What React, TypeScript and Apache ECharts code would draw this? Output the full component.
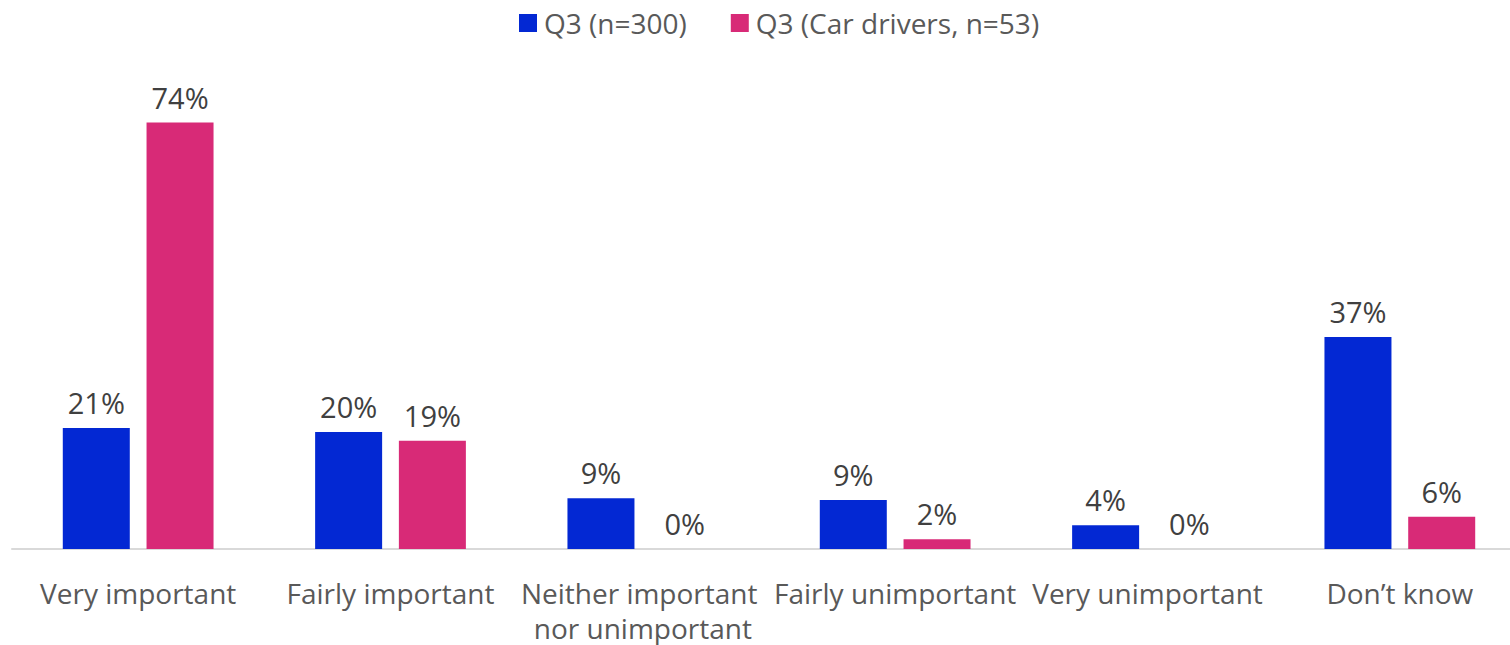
import React, { useEffect, useRef } from "react";
import * as echarts from "echarts";

const categories = [
  "Very important",
  "Fairly important",
  "Neither important nor unimportant",
  "Fairly unimportant",
  "Very unimportant",
  "Don\u2019t know",
];
const seriesNames = ["Q3 (n=300)", "Q3 (Car drivers, n=53)"];
const allValues = [21.0, 20.3, 8.8, 8.5, 4.1, 36.8];
const carDriverValues = [74.0, 18.8, 0, 1.7, 0, 5.6];
const colors = ["#0328D3", "#D82A77"];

export default function App() {
  const ref = useRef<HTMLDivElement>(null);
  useEffect(() => {
    if (!ref.current) return;
    const chart = echarts.init(ref.current, undefined, { renderer: "svg" });
    const font = "'Open Sans', sans-serif";
    const label = {
      show: true,
      position: "top",
      distance: 11,
      color: "#404040",
      fontSize: 29,
      fontFamily: font,
      formatter: (p: any) => Math.round(p.value) + "%",
    };
    chart.setOption({
      animation: false,
      color: colors,
      legend: {
        top: 4,
        left: 514,
        itemWidth: 18,
        itemHeight: 18,
        itemGap: 44,
        icon: "rect",
        textStyle: { fontSize: 28, color: "#595959", fontFamily: font, padding: [0, 0, 0, 2] },
        data: seriesNames,
      },
      grid: { left: 12, right: -16, top: 88, bottom: 96, outerBoundsMode: "none", containLabel: false },
      xAxis: {
        type: "category",
        data: categories,
        axisLine: { lineStyle: { color: "#d9d9d9", width: 2 } },
        axisTick: { show: false },
        axisLabel: {
          interval: 0,
          margin: 26,
          fontSize: 28,
          color: "#595959",
          fontFamily: font,
          lineHeight: 35,
          width: 252,
          overflow: "break",
        },
      },
      yAxis: {
        type: "value",
        min: 0,
        max: 80,
        show: false,
        splitLine: { show: false },
      },
      series: [
        {
          name: seriesNames[0],
          type: "bar",
          data: allValues,
          barWidth: 67,
          barGap: "25%",
          label,
        },
        {
          name: seriesNames[1],
          type: "bar",
          data: carDriverValues,
          barWidth: 67,
          barGap: "25%",
          label,
        },
      ],
    });
    return () => chart.dispose();
  }, []);
  return (
    <div
      ref={ref}
      style={{ position: "fixed", left: 0, top: 0, width: 1510, height: 645, background: "#fff" }}
    />
  );
}
